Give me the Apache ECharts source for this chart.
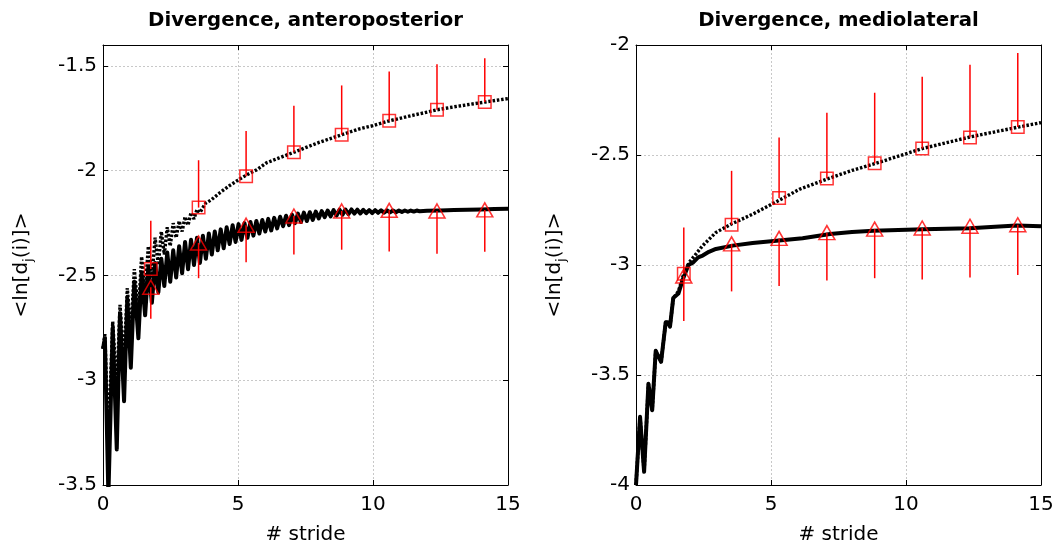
<!DOCTYPE html>
<html>
<head>
<meta charset="utf-8">
<script src="https://cdn.jsdelivr.net/npm/echarts@6/dist/echarts.min.js"></script>
<style>
  html, body { margin: 0; padding: 0; background: #fff; }
  #chart { width: 1057px; height: 550px; }
</style>
</head>
<body>
<div id="chart"></div>
<script>
// ---- data ----
const panelTitles = ['Divergence, anteroposterior', 'Divergence, mediolateral'];
const xTicks = [0, 5, 10, 15];
const apYTicks = [-3.5, -3, -2.5, -2, -1.5];
const mlYTicks = [-4, -3.5, -3, -2.5, -2];

// stride positions of the group means
const strideMarks = [1.77, 3.54, 5.30, 7.07, 8.84, 10.60, 12.37, 14.14];

// anteroposterior: group means and spread
const apSquare = [-2.469, -2.176, -2.027, -1.912, -1.828, -1.761, -1.709, -1.672];
const apSquareSd = [0.230, 0.226, 0.217, 0.222, 0.235, 0.234, 0.217, 0.209];
const apTriangle = [-2.556, -2.345, -2.260, -2.216, -2.192, -2.189, -2.192, -2.187];
const apTriangleSd = [0.150, 0.168, 0.177, 0.184, 0.185, 0.196, 0.204, 0.200];

// mediolateral: group means and spread
const mlSquare = [-3.040, -2.817, -2.696, -2.607, -2.538, -2.470, -2.420, -2.373];
const mlSquareSd = [0.210, 0.245, 0.276, 0.299, 0.321, 0.326, 0.330, 0.337];
const mlTriangle = [-3.050, -2.904, -2.879, -2.853, -2.837, -2.832, -2.824, -2.817];
const mlTriangleSd = [0.205, 0.216, 0.217, 0.217, 0.223, 0.234, 0.233, 0.229];

// anteroposterior divergence curves [stride, <ln d>]
const apSolid = [
  [0.00,-2.85],[0.07,-2.80],[0.20,-3.55],[0.36,-2.75],[0.51,-3.33],[0.63,-2.68],[0.78,-3.10],
  [0.90,-2.61],[1.03,-2.94],[1.16,-2.53],[1.31,-2.80],[1.43,-2.49],[1.56,-2.69],[1.68,-2.46],
  [1.81,-2.63],[1.93,-2.44],[2.05,-2.58],[2.16,-2.42],[2.27,-2.55],[2.38,-2.39],[2.49,-2.53],
  [2.60,-2.38],[2.71,-2.51],[2.82,-2.36],[2.93,-2.49],[3.04,-2.34],[3.15,-2.47],[3.26,-2.33],
  [3.37,-2.45],[3.48,-2.32],[3.59,-2.44],[3.70,-2.31],[3.81,-2.42],[3.92,-2.30],[4.03,-2.40],
  [4.14,-2.29],[4.25,-2.38],[4.36,-2.28],[4.47,-2.37],[4.58,-2.27],[4.69,-2.35],[4.80,-2.26],
  [4.91,-2.34],[5.02,-2.255],[5.13,-2.33],[5.24,-2.25],[5.35,-2.32],[5.46,-2.245],[5.57,-2.31],
  [5.68,-2.24],[5.79,-2.30],[5.90,-2.235],[6.01,-2.29],[6.12,-2.23],[6.23,-2.285],[6.34,-2.225],
  [6.45,-2.275],[6.56,-2.22],[6.67,-2.265],[6.78,-2.215],[6.89,-2.26],[7.00,-2.21],[7.11,-2.25],
  [7.22,-2.205],[7.33,-2.245],[7.44,-2.20],[7.55,-2.24],[7.66,-2.198],[7.77,-2.235],[7.88,-2.195],
  [7.99,-2.228],[8.10,-2.193],[8.21,-2.222],[8.32,-2.19],[8.43,-2.218],[8.54,-2.188],[8.65,-2.214],
  [8.76,-2.186],[8.87,-2.21],[8.98,-2.185],[9.09,-2.207],[9.20,-2.185],[9.31,-2.205],[9.42,-2.186],
  [9.53,-2.204],[9.64,-2.187],[9.75,-2.203],[9.86,-2.188],[9.97,-2.202],[10.08,-2.188],[10.19,-2.201],
  [10.30,-2.189],[10.41,-2.20],[10.52,-2.189],[10.63,-2.199],[10.74,-2.19],[10.85,-2.198],[10.96,-2.19],
  [11.07,-2.197],[11.18,-2.19],[11.29,-2.196],[11.40,-2.19],[11.51,-2.195],[11.62,-2.19],[11.73,-2.194],
  [12.0,-2.191],[12.5,-2.19],[13.0,-2.188],[13.5,-2.186],[14.0,-2.185],[14.5,-2.183],[15.0,-2.182]
];
const apDotted = [
  [0.00,-2.85],[0.07,-2.78],[0.20,-3.30],[0.36,-2.72],[0.51,-3.05],[0.63,-2.64],[0.78,-2.92],
  [0.90,-2.56],[1.03,-2.78],[1.16,-2.47],[1.31,-2.68],[1.43,-2.41],[1.56,-2.58],[1.68,-2.36],
  [1.81,-2.51],[1.93,-2.32],[2.05,-2.45],[2.16,-2.29],[2.27,-2.40],[2.38,-2.27],[2.49,-2.36],
  [2.60,-2.25],[2.71,-2.32],[2.82,-2.24],[2.93,-2.29],[3.04,-2.22],[3.15,-2.26],[3.26,-2.20],
  [3.37,-2.23],[3.48,-2.185],[3.59,-2.20],[3.80,-2.155],[4.00,-2.14],[4.33,-2.105],[4.70,-2.07],
  [5.00,-2.045],[5.32,-2.02],[5.70,-1.995],[6.06,-1.962],[6.50,-1.94],[7.07,-1.912],[7.50,-1.89],
  [8.00,-1.865],[8.85,-1.828],[9.50,-1.80],[10.00,-1.785],[10.63,-1.761],[11.50,-1.735],
  [12.38,-1.709],[13.00,-1.695],[14.16,-1.672],[15.00,-1.656]
];

// mediolateral divergence curves [stride, <ln d>]
const mlSolid = [
  [0.00,-4.00],[0.15,-3.69],[0.30,-3.94],[0.46,-3.54],[0.60,-3.66],[0.73,-3.39],[0.80,-3.39],
  [0.93,-3.44],[1.10,-3.26],[1.18,-3.26],[1.26,-3.28],[1.38,-3.15],[1.57,-3.13],[1.75,-3.06],
  [1.94,-3.00],[2.10,-2.99],[2.30,-2.965],[2.47,-2.957],[2.70,-2.94],[2.96,-2.927],[3.58,-2.912],
  [4.32,-2.90],[5.30,-2.889],[6.17,-2.878],[7.19,-2.859],[8.00,-2.85],[8.79,-2.844],[10.64,-2.837],
  [12.37,-2.833],[13.30,-2.826],[14.10,-2.82],[15.00,-2.824]
];
const mlDotted = [
  [0.00,-4.00],[0.15,-3.69],[0.30,-3.94],[0.46,-3.54],[0.60,-3.66],[0.73,-3.39],[0.80,-3.39],
  [0.93,-3.44],[1.10,-3.26],[1.18,-3.26],[1.26,-3.28],[1.38,-3.15],[1.57,-3.12],[1.77,-3.04],
  [1.97,-2.988],[2.22,-2.95],[2.47,-2.912],[2.96,-2.852],[3.53,-2.814],[4.32,-2.769],[5.31,-2.705],
  [6.07,-2.655],[7.06,-2.61],[8.00,-2.57],[8.85,-2.539],[10.60,-2.471],[12.37,-2.418],
  [14.16,-2.373],[15.00,-2.353]
];

// ---- layout / styling ----
const FONT = '"DejaVu Sans", Verdana, sans-serif';
const RED = '#ff0000';
const grids = [
  { left: 103, right: 549, top: 45, bottom: 63 },
  { left: 636, right: 16, top: 45, bottom: 63 }
];
const yRanges = [{ min: -3.5, max: -1.4 }, { min: -4, max: -2 }];

const frameLine = { show: true, onZero: false, lineStyle: { color: '#000', width: 1 } };
const innerTick = { show: true, inside: true, length: 5, lineStyle: { color: '#000', width: 1 } };
const gridLine = { show: true, lineStyle: { color: '#c8c8c8', width: 1, type: [2, 2] } };

const xAxes = [];
const yAxes = [];
for (let g = 0; g < 2; g++) {
  xAxes.push({
    gridIndex: g, type: 'value', min: xTicks[0], max: xTicks[xTicks.length - 1], interval: 5,
    position: 'bottom', axisLine: frameLine, axisTick: innerTick, splitLine: gridLine,
    axisLabel: { color: '#000', fontSize: 20, fontFamily: FONT, margin: 10 },
    name: '# stride', nameLocation: 'middle', nameGap: 40,
    nameTextStyle: { color: '#000', fontSize: 20, fontFamily: FONT }
  });
  xAxes.push({
    gridIndex: g, type: 'value', min: xTicks[0], max: xTicks[xTicks.length - 1], interval: 5,
    position: 'top', axisLine: frameLine, axisTick: innerTick,
    axisLabel: { show: false }, splitLine: { show: false }
  });
  const ticks = g === 0 ? apYTicks : mlYTicks;
  yAxes.push({
    gridIndex: g, type: 'value', min: yRanges[g].min, max: yRanges[g].max, interval: 0.5,
    position: 'left', axisLine: frameLine, axisTick: innerTick, splitLine: gridLine,
    axisLabel: {
      color: '#000', fontSize: 20, fontFamily: FONT, margin: 6, showMaxLabel: g === 1,
      formatter: v => (ticks.some(t => Math.abs(t - v) < 1e-9) ? String(v) : '')
    },
    name: '{t|<ln[d}{s|j}{t|(i)]>}', nameLocation: 'middle', nameGap: 68,
    nameTextStyle: {
      rich: {
        t: { color: '#000', fontSize: 20, fontFamily: FONT },
        s: { color: '#000', fontSize: 13, fontFamily: FONT, padding: [13, 0, 0, 0] }
      }
    }
  });
  yAxes.push({
    gridIndex: g, type: 'value', min: yRanges[g].min, max: yRanges[g].max, interval: 0.5,
    position: 'right', axisLine: frameLine, axisTick: innerTick,
    axisLabel: { show: false }, splitLine: { show: false }
  });
}

function pairs(xs, ys) { return xs.map((x, i) => [x, ys[i]]); }

// vertical error bar from each mean, going up (dir = 1) or down (dir = -1)
function errorBars(g, means, sds, dir) {
  return {
    type: 'custom', xAxisIndex: 2 * g, yAxisIndex: 2 * g, z: 4, silent: true,
    data: strideMarks.map((x, i) => [x, means[i], sds[i]]),
    renderItem: (params, api) => {
      const x = api.value(0), y = api.value(1), e = api.value(2);
      const p0 = api.coord([x, y]);
      const p1 = api.coord([x, y + dir * e]);
      return {
        type: 'line',
        shape: { x1: p0[0], y1: p0[1], x2: p1[0], y2: p1[1] },
        style: { stroke: RED, lineWidth: 1.5 }
      };
    }
  };
}

function markers(g, means, symbol, size) {
  return {
    type: 'scatter', xAxisIndex: 2 * g, yAxisIndex: 2 * g, z: 5, silent: true,
    symbol: symbol, symbolSize: size,
    itemStyle: { color: 'rgba(0,0,0,0)', borderColor: RED, borderWidth: 1.5 },
    data: pairs(strideMarks, means)
  };
}

function curve(g, data, dashed) {
  return {
    type: 'line', xAxisIndex: 2 * g, yAxisIndex: 2 * g, z: 2, silent: true,
    showSymbol: false, symbol: 'none', animation: false, clip: true,
    lineStyle: dashed
      ? { color: '#000', width: 3.4, type: [2.5, 1.8], cap: 'butt' }
      : { color: '#000', width: 4, join: 'round' },
    data: data
  };
}

const series = [
  curve(0, apSolid, false),
  curve(0, apDotted, true),
  errorBars(0, apSquare, apSquareSd, 1),
  errorBars(0, apTriangle, apTriangleSd, -1),
  markers(0, apSquare, 'rect', 12.5),
  markers(0, apTriangle, 'triangle', [16, 14]),
  curve(1, mlSolid, false),
  curve(1, mlDotted, true),
  errorBars(1, mlSquare, mlSquareSd, 1),
  errorBars(1, mlTriangle, mlTriangleSd, -1),
  markers(1, mlSquare, 'rect', 12.5),
  markers(1, mlTriangle, 'triangle', [16, 14])
];

const chart = echarts.init(document.getElementById('chart'), null, { renderer: 'canvas' });
chart.setOption({
  animation: false,
  backgroundColor: '#fff',
  grid: grids,
  xAxis: xAxes,
  yAxis: yAxes,
  graphic: [
    { type: 'text', x: 305.5, y: 21, style: { text: panelTitles[0], font: 'bold 19.7px ' + FONT, fill: '#000', textAlign: 'center', textVerticalAlign: 'middle' } },
    { type: 'text', x: 838.5, y: 21, style: { text: panelTitles[1], font: 'bold 19.7px ' + FONT, fill: '#000', textAlign: 'center', textVerticalAlign: 'middle' } }
  ],
  series: series
});
</script>
</body>
</html>
